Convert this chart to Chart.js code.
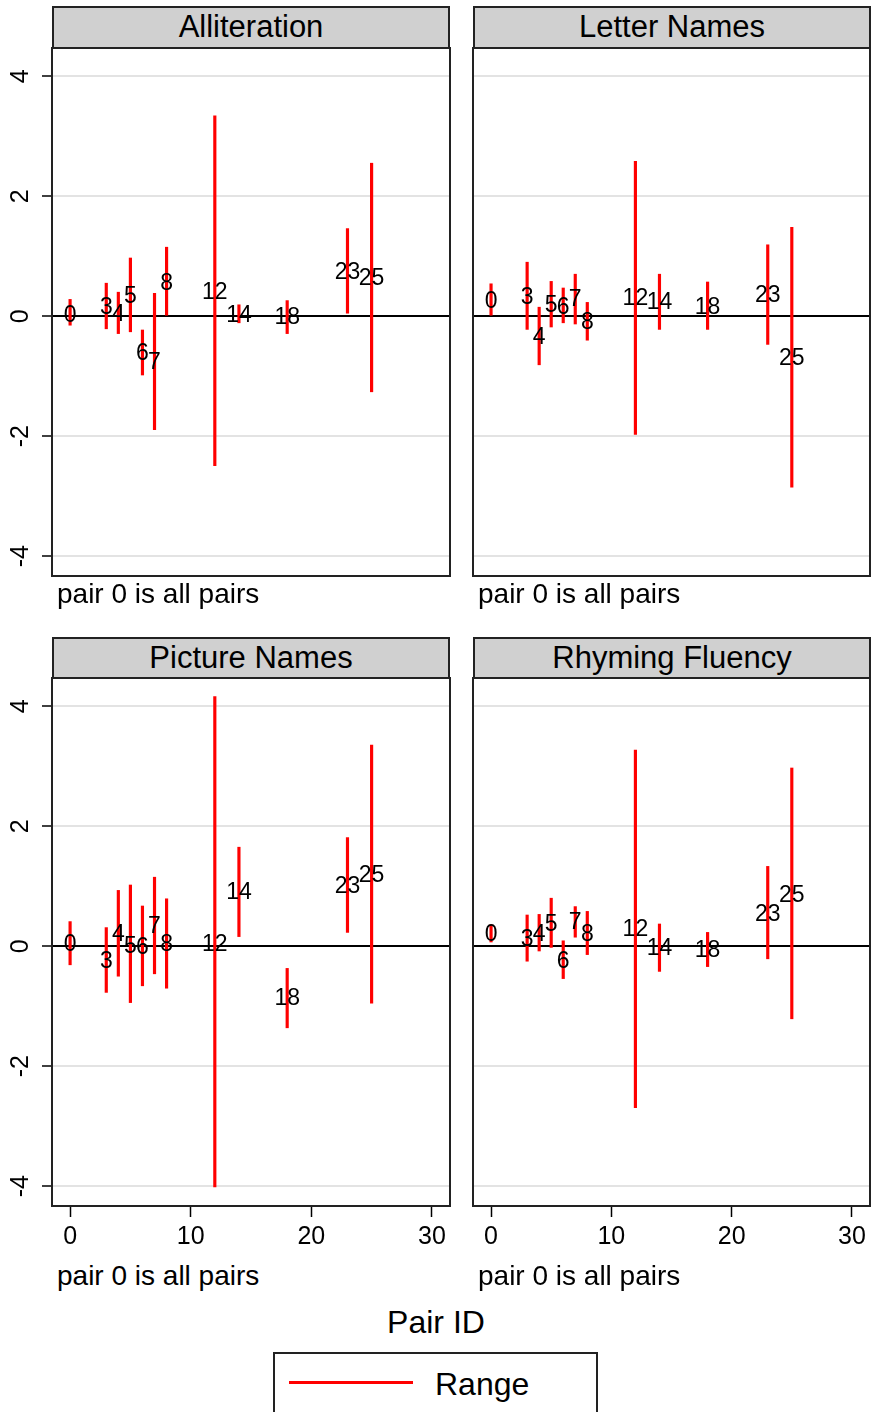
<!DOCTYPE html>
<html>
<head>
<meta charset="utf-8">
<script src="https://cdn.jsdelivr.net/npm/chart.js@4.4.1/dist/chart.umd.min.js"></script>
<style>
html, body { margin: 0; padding: 0; background: #fff; overflow: hidden; }
body { width: 871px; height: 1412px; position: relative; font-family: "Liberation Sans", Arial, sans-serif; color: #000; }
.txt { position: absolute; line-height: 1; white-space: nowrap; }
.hdr { position: absolute; background: #d0d0d0; border: 2px solid #222; box-sizing: border-box; }
.hdr span { position: absolute; left: 0; right: 0; top: 3px; text-align: center; font-size: 31px; line-height: 1; }
canvas { position: absolute; }
</style>
</head>
<body>

<div class="hdr" style="left:52px;top:6px;width:398px;height:43px;"><span>Alliteration</span></div>
<div class="hdr" style="left:473px;top:6px;width:398px;height:43px;"><span>Letter Names</span></div>
<div class="hdr" style="left:52px;top:637px;width:398px;height:42px;"><span>Picture Names</span></div>
<div class="hdr" style="left:473px;top:637px;width:398px;height:42px;"><span>Rhyming Fluency</span></div>

<canvas id="chart1" width="460" height="545" style="left:0;top:40px;"></canvas>
<canvas id="chart2" width="419" height="545" style="left:452px;top:40px;"></canvas>
<canvas id="chart3" width="460" height="590" style="left:0;top:670px;"></canvas>
<canvas id="chart4" width="419" height="590" style="left:452px;top:670px;"></canvas>

<div class="txt" style="left:57px;top:580px;font-size:28px;">pair 0 is all pairs</div>
<div class="txt" style="left:478px;top:580px;font-size:28px;">pair 0 is all pairs</div>
<div class="txt" style="left:57px;top:1262px;font-size:28px;">pair 0 is all pairs</div>
<div class="txt" style="left:478px;top:1262px;font-size:28px;">pair 0 is all pairs</div>

<div class="txt" style="left:436px;top:1306px;font-size:32px;transform:translateX(-50%);">Pair ID</div>

<div style="position:absolute;left:273px;top:1352px;width:325px;height:80px;border:2px solid #222;box-sizing:border-box;"></div>
<div style="position:absolute;left:289px;top:1381px;width:124px;height:3px;background:#ff0000;"></div>
<div class="txt" style="left:435px;top:1368px;font-size:32px;">Range</div>

<script>
var pairIds = [0, 3, 4, 5, 6, 7, 8, 12, 14, 18, 23, 25];
var xTicks = [0, 10, 20, 30];
var yTicks = [-4, -2, 0, 2, 4];

// Alliteration
var allitEst = [0.01, 0.15, 0.03, 0.33, -0.62, -0.77, 0.54, 0.39, 0.01, -0.03, 0.73, 0.63];
var allitLo  = [-0.15, -0.21, -0.29, -0.26, -0.98, -1.89, 0.00, -2.49, -0.11, -0.29, 0.05, -1.26];
var allitHi  = [0.28, 0.55, 0.40, 0.97, -0.23, 0.38, 1.15, 3.34, 0.19, 0.26, 1.46, 2.55];

// Letter Names
var letterEst = [0.24, 0.31, -0.36, 0.17, 0.15, 0.27, -0.11, 0.29, 0.22, 0.15, 0.34, -0.71];
var letterLo  = [0.00, -0.22, -0.81, -0.18, -0.11, -0.13, -0.40, -1.97, -0.22, -0.22, -0.47, -2.85];
var letterHi  = [0.54, 0.90, 0.15, 0.58, 0.47, 0.70, 0.23, 2.58, 0.70, 0.57, 1.19, 1.48];

// Picture Names
var pictureEst = [0.02, -0.26, 0.20, 0.00, -0.02, 0.33, 0.02, 0.03, 0.89, -0.88, 1.00, 1.17];
var pictureLo  = [-0.31, -0.77, -0.50, -0.94, -0.66, -0.46, -0.70, -4.01, 0.16, -1.36, 0.23, -0.95];
var pictureHi  = [0.41, 0.31, 0.93, 1.02, 0.67, 1.15, 0.79, 4.16, 1.65, -0.37, 1.81, 3.35];

// Rhyming Fluency
var rhymeEst = [0.19, 0.11, 0.20, 0.36, -0.25, 0.39, 0.20, 0.27, -0.04, -0.07, 0.53, 0.85];
var rhymeLo  = [0.07, -0.25, -0.08, -0.02, -0.54, 0.15, -0.14, -2.69, -0.42, -0.34, -0.21, -1.21];
var rhymeHi  = [0.36, 0.52, 0.53, 0.80, 0.09, 0.66, 0.58, 3.27, 0.37, 0.23, 1.33, 2.97];

var fontFamily = '"Liberation Sans", Arial, sans-serif';

// draws the pair id at each estimate, centred on the point
var pairLabels = {
	id: 'pairLabels',
	afterDatasetsDraw: function(chart) {
		var meta = chart.getDatasetMeta(1);
		var c = chart.ctx;
		c.save();
		c.font = '23px ' + fontFamily;
		c.fillStyle = '#000';
		c.textAlign = 'center';
		c.textBaseline = 'middle';
		meta.data.forEach(function(pt, i) {
			c.fillText(String(pairIds[i]), pt.x, pt.y);
		});
		c.restore();
	}
};

var plotFrame = {
	id: 'plotFrame',
	afterDraw: function(chart) {
		var a = chart.chartArea;
		var c = chart.ctx;
		c.save();
		c.strokeStyle = '#222';
		c.lineWidth = 2;
		c.strokeRect(a.left, a.top, a.right - a.left, a.bottom - a.top);
		c.restore();
	}
};

function makePanel(id, est, lo, hi, leftCol, bottomRow) {
	var ctx = document.getElementById(id).getContext('2d');
	return new Chart(ctx, {
		type: 'bar',
		data: {
			datasets: [{
				type: 'bar',
				label: 'Range',
				data: pairIds.map(function(p, i) { return { x: p, y: [lo[i], hi[i]] }; }),
				backgroundColor: '#ff0000',
				borderWidth: 0,
				barThickness: 2.5
			}, {
				type: 'scatter',
				label: 'Pair',
				data: pairIds.map(function(p, i) { return { x: p, y: est[i] }; }),
				pointRadius: 0
			}]
		},
		options: {
			responsive: false,
			animation: false,
			layout: {
				padding: { top: 8, right: leftCol ? 10 : 1, bottom: bottomRow ? 10 : 9, left: 0 }
			},
			plugins: {
				legend: { display: false },
				tooltip: { enabled: false }
			},
			scales: {
				x: {
					type: 'linear',
					min: -1.5,
					max: 31.5,
					offset: false,
					display: bottomRow,
					afterBuildTicks: function(axis) {
						axis.ticks = xTicks.map(function(v) { return { value: v }; });
					},
					grid: {
						offset: false,
						drawOnChartArea: false,
						drawTicks: true,
						tickLength: 11,
						tickColor: '#000',
						tickWidth: 1.5
					},
					border: { display: false },
					ticks: {
						color: '#000',
						font: { family: fontFamily, size: 25 },
						padding: 5,
						maxRotation: 0
					},
					afterFit: function(s) {
						s.height = bottomRow ? 44 : 0;
						s.paddingLeft = 0;
						s.paddingRight = 0;
					}
				},
				y: {
					type: 'linear',
					min: -4.33,
					max: 4.47,
					afterBuildTicks: function(axis) {
						axis.ticks = yTicks.map(function(v) { return { value: v }; });
					},
					grid: {
						color: function(c) { return c.tick && c.tick.value === 0 ? '#000' : '#e3e3e3'; },
						lineWidth: 2,
						drawTicks: leftCol,
						tickLength: 10,
						tickColor: '#000',
						tickWidth: 1.5
					},
					border: { display: false },
					ticks: {
						display: leftCol,
						color: '#000',
						font: { family: fontFamily, size: 25 },
						minRotation: 90,
						maxRotation: 90,
						crossAlign: 'center',
						padding: 10
					},
					afterFit: function(s) {
						s.width = leftCol ? 52 : 21;
						s.paddingTop = 0;
						s.paddingBottom = 0;
					}
				}
			}
		},
		plugins: [pairLabels, plotFrame]
	});
}

var chart1 = makePanel('chart1', allitEst, allitLo, allitHi, true, false);
var chart2 = makePanel('chart2', letterEst, letterLo, letterHi, false, false);
var chart3 = makePanel('chart3', pictureEst, pictureLo, pictureHi, true, true);
var chart4 = makePanel('chart4', rhymeEst, rhymeLo, rhymeHi, false, true);
</script>
</body>
</html>
